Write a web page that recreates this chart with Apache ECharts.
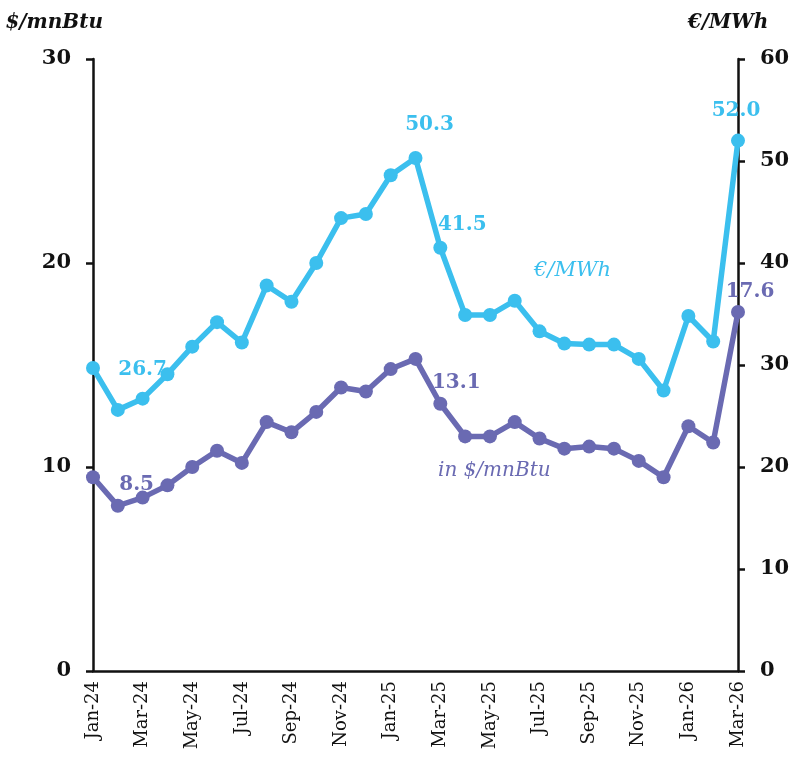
<!DOCTYPE html>
<html>
<head>
<meta charset="utf-8">
<script src="https://cdn.jsdelivr.net/npm/echarts@6/dist/echarts.min.js"></script>
<style>
  html, body { margin: 0; padding: 0; background: #fff; }
  #main { width: 797px; height: 769px; }
</style>
</head>
<body>
<div id="main"></div>
<script>
const months = ['Jan-24', 'Feb-24', 'Mar-24', 'Apr-24', 'May-24', 'Jun-24', 'Jul-24', 'Aug-24', 'Sep-24',
  'Oct-24', 'Nov-24', 'Dec-24', 'Jan-25', 'Feb-25', 'Mar-25', 'Apr-25', 'May-25', 'Jun-25', 'Jul-25',
  'Aug-25', 'Sep-25', 'Oct-25', 'Nov-25', 'Dec-25', 'Jan-26', 'Feb-26', 'Mar-26'];

// €/MWh, right axis
const eurMwh = [29.7, 25.6, 26.7, 29.1, 31.8, 34.2, 32.2, 37.8, 36.2, 40.0, 44.4, 44.8, 48.6, 50.3,
  41.5, 34.9, 34.9, 36.3, 33.3, 32.1, 32.0, 32.0, 30.6, 27.5, 34.8, 32.3, 52.0];

// $/mnBtu, left axis
const usdMmbtu = [9.5, 8.1, 8.5, 9.1, 10.0, 10.8, 10.2, 12.2, 11.7, 12.7, 13.9, 13.7, 14.8, 15.3,
  13.1, 11.5, 11.5, 12.2, 11.4, 10.9, 11.0, 10.9, 10.3, 9.5, 12.0, 11.2, 17.6];

// which points get a value label, and how far it is nudged [dx, dy]
const eurLabels = { 2: [0, 0], 13: [14, -4], 14: [22, 6], 26: [-2, -1] };
const usdLabels = { 2: [-6, 16], 14: [16, 8], 26: [12, 9] };

const blue = '#3bbfee';
const purple = '#6a6ab2';
const serif = '"DejaVu Serif", "Liberation Serif", serif';

function withLabels(values, labels, color) {
  return values.map((v, i) => {
    if (!(i in labels)) return v;
    return {
      value: v,
      label: {
        show: true,
        position: 'top',
        distance: 12,
        offset: labels[i],
        formatter: v.toFixed(1),
        color: color,
        fontFamily: serif,
        fontWeight: 'bold',
        fontSize: 20
      }
    };
  });
}

const chart = echarts.init(document.getElementById('main'));

const axisName = {
  fontFamily: serif,
  fontWeight: 'bold',
  fontStyle: 'italic',
  fontSize: 20,
  color: '#111'
};

chart.setOption({
  animation: false,
  grid: { left: 93, right: 59, top: 59, bottom: 98 },
  xAxis: {
    type: 'category',
    data: months,
    boundaryGap: false,
    axisLine: { lineStyle: { color: '#111', width: 2.5 } },
    axisTick: { show: false },
    axisLabel: {
      interval: 1,
      rotate: 90,
      color: '#111',
      fontFamily: serif,
      fontSize: 18,
      margin: 10
    }
  },
  yAxis: [
    {
      type: 'value',
      min: 0, max: 30, interval: 10,
      position: 'left',
      name: '$/mnBtu',
      nameLocation: 'end',
      nameGap: 26,
      nameTextStyle: Object.assign({ align: 'right', padding: [0, -10, 0, 0] }, axisName),
      splitLine: { show: false },
      axisLine: { show: true, lineStyle: { color: '#111', width: 2.5 } },
      axisTick: { show: true, length: 7, lineStyle: { color: '#111', width: 2.5 } },
      axisLabel: { color: '#111', fontFamily: serif, fontWeight: 'bold', fontSize: 21, margin: 22 }
    },
    {
      type: 'value',
      min: 0, max: 60, interval: 10,
      position: 'right',
      name: '€/MWh',
      nameLocation: 'end',
      nameGap: 26,
      nameTextStyle: Object.assign({ align: 'center', padding: [0, 20, 0, 0] }, axisName),
      splitLine: { show: false },
      axisLine: { show: true, lineStyle: { color: '#111', width: 2.5 } },
      axisTick: { show: true, length: 7, lineStyle: { color: '#111', width: 2.5 } },
      axisLabel: { color: '#111', fontFamily: serif, fontWeight: 'bold', fontSize: 21, margin: 22 }
    }
  ],
  series: [
    {
      name: '€/MWh',
      type: 'line',
      yAxisIndex: 1,
      data: withLabels(eurMwh, eurLabels, blue),
      symbol: 'circle',
      symbolSize: 14,
      lineStyle: { color: blue, width: 5.5 },
      itemStyle: { color: blue },
      z: 3
    },
    {
      name: 'in $/mnBtu',
      type: 'line',
      yAxisIndex: 0,
      data: withLabels(usdMmbtu, usdLabels, purple),
      symbol: 'circle',
      symbolSize: 14,
      lineStyle: { color: purple, width: 5.5 },
      itemStyle: { color: purple },
      z: 2
    }
  ],
  graphic: [
    {
      type: 'text',
      left: 534, top: 260,
      style: { text: '€/MWh', fill: blue, font: 'italic 21px ' + serif }
    },
    {
      type: 'text',
      left: 438, top: 461,
      style: { text: 'in $/mnBtu', fill: purple, font: 'italic 20px ' + serif }
    }
  ]
});
</script>
</body>
</html>
